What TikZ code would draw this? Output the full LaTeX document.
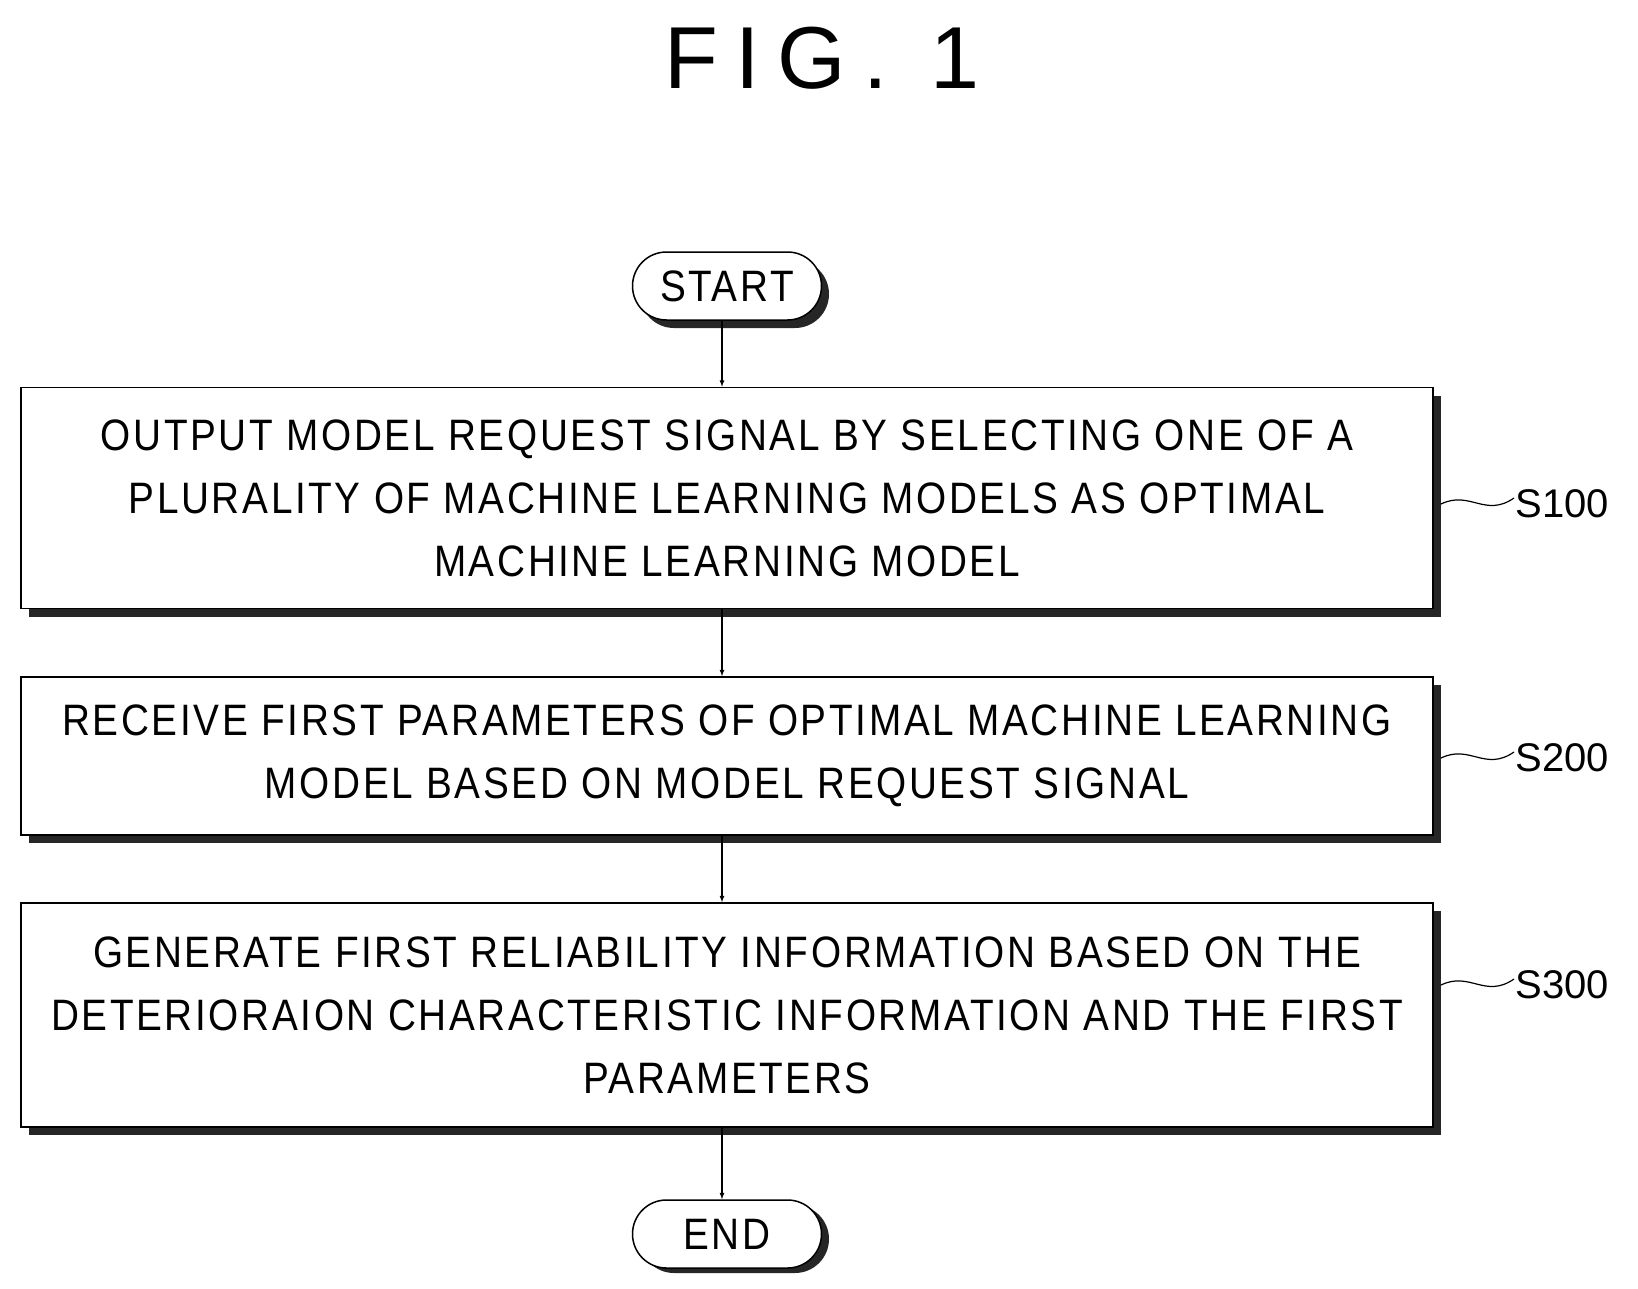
\documentclass[tikz,border=0pt]{standalone}
\usepackage{fontspec}
\setmainfont{Liberation Sans}
\newfontfamily\nar[FakeStretch=0.88,LetterSpace=6]{Liberation Sans}
\begin{document}
\begin{tikzpicture}[x=1pt,y=-1pt,
  txt/.style={font=\nar\fontsize{44}{63}\selectfont,align=center},
  box/.style={draw,line width=1.5pt,fill=white},
  shd/.style={fill=black!85},
  arr/.style={-latex,line width=1.2pt},
  lab/.style={font=\fontsize{40}{40}\selectfont,anchor=west}]
\useasboundingbox (0,0) rectangle (1638,1288);
\node[font=\fontsize{88}{88}\selectfont\addfontfeature{LetterSpace=20}] (title) at (822,58) {FIG. 1};
% START
\fill[shd,rounded corners=34pt] (640,260) rectangle (829,328);
\node[box,rounded corners=34pt,minimum width=189pt,minimum height=68pt,txt] (start) at (727,286) {START};
% boxes
\fill[shd] (29,396) rectangle (1441,617);
\node[box,minimum width=1412pt,minimum height=221pt,txt] (b1) at (727,498) {OUTPUT MODEL REQUEST SIGNAL BY SELECTING ONE OF A\\PLURALITY OF MACHINE LEARNING MODELS AS OPTIMAL\\MACHINE LEARNING MODEL};
\fill[shd] (29,685) rectangle (1441,843);
\node[box,minimum width=1412pt,minimum height=158pt,txt] (b2) at (727,756) {RECEIVE FIRST PARAMETERS OF OPTIMAL MACHINE LEARNING\\MODEL BASED ON MODEL REQUEST SIGNAL};
\fill[shd] (29,911) rectangle (1441,1135);
\node[box,minimum width=1412pt,minimum height=224pt,txt] (b3) at (727,1015) {GENERATE FIRST RELIABILITY INFORMATION BASED ON THE\\DETERIORAION CHARACTERISTIC INFORMATION AND THE FIRST\\PARAMETERS};
% END
\fill[shd,rounded corners=34pt] (640,1205) rectangle (829,1273);
\node[box,rounded corners=34pt,minimum width=189pt,minimum height=68pt,txt] (end) at (727,1234) {END};
% arrows
\draw[arr] (start.south -| 722,0) -- (b1.north -| 722,0);
\draw[arr] (b1.south -| 722,0) -- (b2.north -| 722,0);
\draw[arr] (b2.south -| 722,0) -- (b3.north -| 722,0);
\draw[arr] (b3.south -| 722,0) -- (end.north -| 722,0);
% labels
\node[lab] (l1) at (1512,504) {S100};
\node[lab] (l2) at (1512,758) {S200};
\node[lab] (l3) at (1512,985) {S300};
\foreach \n/\y in {b1/504,b2/758,b3/985}{
 \draw[line width=1.2pt] (1441,\y) .. controls (1470,\y-14) and (1485,\y+14) .. (1514,\y-6);
}
\end{tikzpicture}
\end{document}
